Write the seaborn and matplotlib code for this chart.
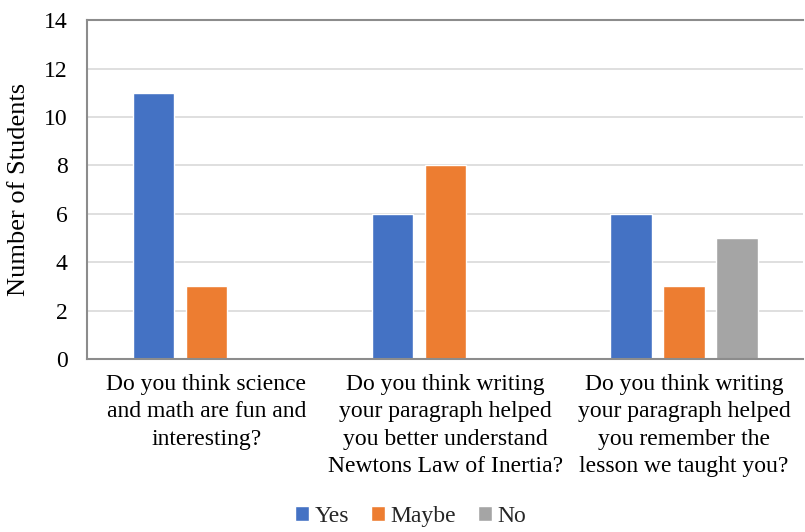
import matplotlib
matplotlib.use("Agg")
import matplotlib.pyplot as plt
import seaborn as sns
import pandas as pd

questions = [
    "Do you think science\nand math are fun and\ninteresting?",
    "Do you think writing\nyour paragraph helped\nyou better understand\nNewtons Law of Inertia?",
    "Do you think writing\nyour paragraph helped\nyou remember the\nlesson we taught you?",
]
responses = ["Yes", "Maybe", "No"]
yes_counts = [11, 6, 6]
maybe_counts = [3, 8, 3]
no_counts = [0, 0, 5]
palette = ["#4472C4", "#ED7D31", "#A5A5A5"]

rows = []
for q, y, m, n in zip(questions, yes_counts, maybe_counts, no_counts):
    rows.append({"question": q, "response": "Yes", "count": y})
    rows.append({"question": q, "response": "Maybe", "count": m})
    rows.append({"question": q, "response": "No", "count": n})
df = pd.DataFrame(rows)

sns.set_theme(style="white")
plt.rcParams["font.family"] = ["Liberation Serif", "DejaVu Serif"]

FS = 17

fig = plt.figure(figsize=(8.05, 5.32), dpi=100)
ax = fig.add_axes([0.108, 0.325, 0.890, 0.637])

sns.barplot(data=df, x="question", y="count", hue="response",
            hue_order=responses, palette=palette, order=questions,
            width=0.666, gap=0.225, saturation=1, ax=ax, legend=True)

ax.set_ylim(0, 14)
ax.set_yticks(range(0, 15, 2))
ax.yaxis.grid(True, color="#D9D9D9", linewidth=1.2)
ax.set_axisbelow(True)
ax.tick_params(axis="both", length=0, labelsize=FS, colors="black")
ax.tick_params(axis="y", pad=14)
ax.tick_params(axis="x", pad=11)
for lbl in ax.get_xticklabels():
    lbl.set_linespacing(1.38)
ax.set_xlabel("")
ax.set_ylabel("Number of Students", fontsize=19, color="black", labelpad=10)

for side in ["left", "bottom", "top"]:
    ax.spines[side].set_visible(True)
    ax.spines[side].set_color("#8C8C8C")
    ax.spines[side].set_linewidth(1.5)
ax.spines["right"].set_visible(False)

handles, labels = ax.get_legend_handles_labels()
ax.legend_.remove()
fig.legend(handles, labels, loc="lower center", bbox_to_anchor=(0.51, -0.03),
           ncol=3, frameon=False, fontsize=FS, handlelength=0.6,
           handleheight=0.6, handletextpad=0.25, columnspacing=0.9)

fig.savefig("out.png", dpi=100)
